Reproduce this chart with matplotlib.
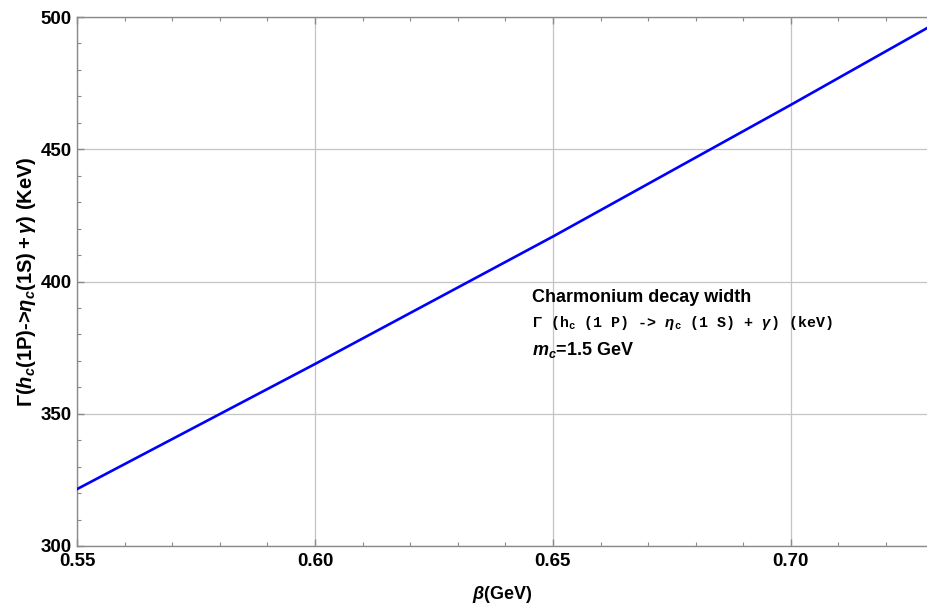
import matplotlib
matplotlib.use("Agg")
import matplotlib.pyplot as plt
from matplotlib.ticker import MultipleLocator

# Fonts: Arial-like bold, with bold italic math
plt.rcParams['font.family'] = ['Liberation Sans', 'DejaVu Sans']
plt.rcParams['font.weight'] = 'bold'
plt.rcParams['mathtext.fontset'] = 'custom'
plt.rcParams['mathtext.rm'] = 'Liberation Sans:bold'
plt.rcParams['mathtext.it'] = 'Liberation Sans:bold:italic'
plt.rcParams['mathtext.bf'] = 'Liberation Sans:bold'
plt.rcParams['mathtext.tt'] = 'Liberation Mono:bold'

# Data
beta = [0.55, 0.60, 0.65, 0.70, 0.7286]
width = [321.5, 368.8, 417.0, 466.8, 495.8]

x_ticks = [0.55, 0.60, 0.65, 0.70]
x_labels = ['0.55', '0.60', '0.65', '0.70']
y_ticks = [300, 350, 400, 450, 500]

fig = plt.figure(figsize=(9.27, 6.10), dpi=100)
ax = fig.add_axes([77/927, 64/610, 850/927, 529/610])

ax.plot(beta, width, color='#0000ff', lw=1.9, zorder=3)

ax.set_xlim(0.55, 0.7286)
ax.set_ylim(300, 500)
ax.set_xticks(x_ticks)
ax.set_xticklabels(x_labels)
ax.set_yticks(y_ticks)
ax.xaxis.set_minor_locator(MultipleLocator(0.01))
ax.yaxis.set_minor_locator(MultipleLocator(10))

ax.grid(True, which='major', color='#c4c4c4', lw=0.9, zorder=0)

for s in ['left', 'bottom', 'top']:
    ax.spines[s].set_color('#8a8a8a')
    ax.spines[s].set_linewidth(1.0)
ax.spines['right'].set_visible(False)

ax.tick_params(which='both', direction='in', top=True, right=False,
               color='#8a8a8a', labelsize=13.5)
ax.tick_params(which='major', length=5, width=1.0)
ax.tick_params(which='minor', length=3, width=0.8)
ax.tick_params(axis='x', pad=5)
ax.tick_params(axis='y', pad=4)

ax.set_xlabel(r'$\beta$(GeV)', fontsize=13, fontweight='bold', labelpad=10)
ax.set_ylabel(r'$\Gamma(h_c(\mathrm{1P})$->$\eta_c(\mathrm{1S})+\gamma$) (KeV)',
              fontsize=14.5, fontweight='bold', labelpad=2)

# White block behind the annotation hides the grid lines there
ax.axvspan(0.6430, 0.7286, ymin=(369 - 300) / 200, ymax=(398.6 - 300) / 200,
           facecolor='white', edgecolor='none', zorder=1)
ax.text(0.6456, 393.8, 'Charmonium decay width', fontsize=13, fontweight='bold',
        va='center', ha='left', zorder=4)
ax.text(0.6456, 384.3,
        r'$\Gamma$ (h$_\mathtt{c}$ (1 P) -> $\eta_\mathtt{c}$ (1 S) + $\gamma$) (keV)',
        family='Liberation Mono', fontweight='bold',
        fontsize=10.8, va='center', ha='left', zorder=4)
ax.text(0.6456, 374.1, r'$m_c$=1.5 GeV', fontsize=13, fontweight='bold',
        va='center', ha='left', zorder=4)

fig.savefig('out.png', dpi=100)
